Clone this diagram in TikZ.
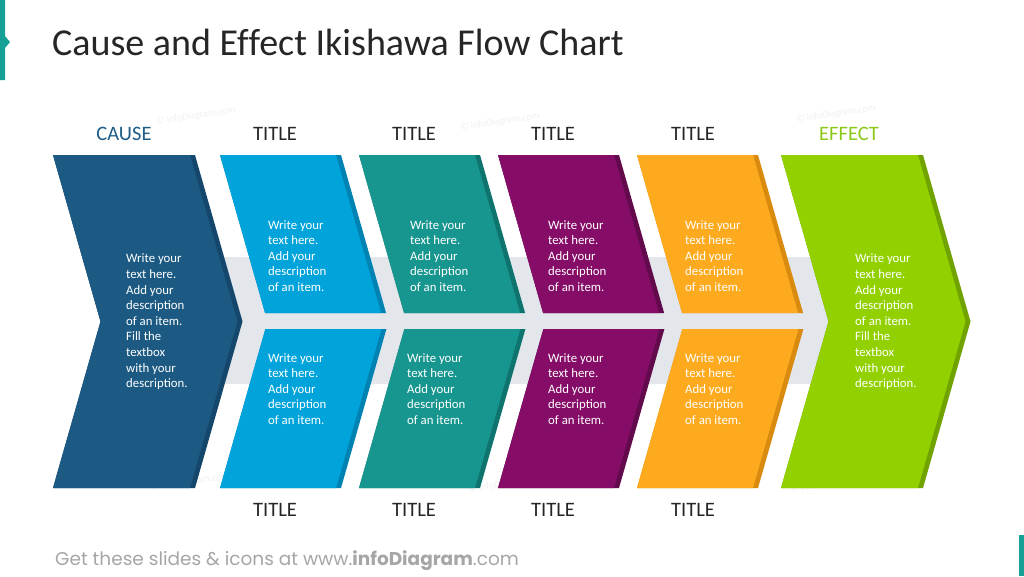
\documentclass[tikz,border=0pt]{standalone}
\usepackage{fontspec}
\setmainfont{Carlito}
\newfontfamily\footfont{Poppins}
\definecolor{ccause}{HTML}{1C5A83}
\definecolor{dcause}{HTML}{14476B}
\definecolor{cblue}{HTML}{00A4DB}
\definecolor{dblue}{HTML}{0083B3}
\definecolor{cteal}{HTML}{17958F}
\definecolor{dteal}{HTML}{0F736E}
\definecolor{cpurple}{HTML}{850C67}
\definecolor{dpurple}{HTML}{620A4C}
\definecolor{corange}{HTML}{FEAA1F}
\definecolor{dorange}{HTML}{D88B0E}
\definecolor{cgreen}{HTML}{92D000}
\definecolor{dgreen}{HTML}{70A200}
\definecolor{band}{HTML}{E3E6EB}
\definecolor{titlegrey}{HTML}{262626}
\definecolor{accent}{HTML}{17A096}
\definecolor{causetxt}{HTML}{1F5C87}
\definecolor{effecttxt}{HTML}{8CC919}
\definecolor{footgrey}{HTML}{A6A6A6}
\definecolor{wm}{HTML}{EEF0F3}
\tikzset{
  desc/.style={anchor=west, align=left, text=white, inner sep=0pt,
    font=\fontsize{12.8}{15.6}\selectfont},
  coltitle/.style={anchor=base, text=titlegrey, inner sep=0pt,
    font=\fontsize{20.5}{24}\selectfont},
  watermark/.style={text=wm, rotate=9, inner sep=0pt,
    font=\fontsize{10}{12}\selectfont}
}
\begin{document}
\begin{tikzpicture}[x=1pt,y=-1pt]
\useasboundingbox (0,0) rectangle (1024,576);
\fill[white] (0,0) rectangle (1024,576);
% accent marks
\fill[accent] (0,0) -- (5,0) -- (5,36) -- (10,42) -- (5,48) -- (5,80) -- (0,80) -- cycle;
\fill[accent] (1019,535) rectangle (1024,576);
% watermarks
\node[watermark] (wm1) at (196,116) {© infoDiagram.com};
\node[watermark] (wm2) at (500,122) {© infoDiagram.com};
\node[watermark] (wm3) at (836,114) {© infoDiagram.com};
\node[watermark] (wm4) at (190,482) {© infoDiagram.com};
\node[watermark] (wm5) at (508,484) {© infoDiagram.com};
\node[watermark] (wm6) at (830,484) {© infoDiagram.com};
% title
\node[anchor=base west, inner sep=0pt, text=titlegrey, font=\fontsize{38}{46}\selectfont]
  (title) at (52,55) {Cause and Ef\kern0ptfect Ikishawa Flow Chart};
% grey spine band
\fill[band] (150,257) rectangle (840,384);
% cause chevron
\fill[dcause] (53,155) -- (195,155) -- (242.5,321.5) -- (195,488) -- (53,488) -- (100.5,321.5) -- cycle;
\fill[ccause] (53,155) -- (190,155) -- (237.5,321.5) -- (190,488) -- (53,488) -- (100.5,321.5) -- cycle;
% effect chevron
\fill[dgreen] (781,155) -- (923,155) -- (970.5,321.5) -- (923,488) -- (781,488) -- (828.5,321.5) -- cycle;
\fill[cgreen] (781,155) -- (918,155) -- (965.5,321.5) -- (918,488) -- (781,488) -- (828.5,321.5) -- cycle;
% columns
\foreach \x/\c/\d in {220/cblue/dblue, 359/cteal/dteal, 498/cpurple/dpurple, 637/corange/dorange}{
  \fill[\d] (\x,155) -- (\x+121,155) -- (\x+166.1,313) -- (\x+45.1,313) -- cycle;
  \fill[\c] (\x,155) -- (\x+116,155) -- (\x+161.1,313) -- (\x+45.1,313) -- cycle;
  \fill[\d] (\x+45.4,329) -- (\x+166.4,329) -- (\x+121,488) -- (\x,488) -- cycle;
  \fill[\c] (\x+45.4,329) -- (\x+161.4,329) -- (\x+116,488) -- (\x,488) -- cycle;
}
% headings
\node[coltitle, text=causetxt] (cause) at (124,140) {CAUSE};
\node[coltitle] (t1) at (275,140) {TITLE};
\node[coltitle] (t2) at (414,140) {TITLE};
\node[coltitle] (t3) at (553,140) {TITLE};
\node[coltitle] (t4) at (693,140) {TITLE};
\node[coltitle, text=effecttxt] (effect) at (849,140) {EFFECT};
\node[coltitle] (b1) at (275,516) {TITLE};
\node[coltitle] (b2) at (414,516) {TITLE};
\node[coltitle] (b3) at (553,516) {TITLE};
\node[coltitle] (b4) at (693,516) {TITLE};
% descriptions
\node[desc] (dcause) at (126,322) {Write your\\text here.\\Add your\\description\\of an item.\\Fill the\\textbox\\with your\\description.};
\node[desc] (deffect) at (855,322) {Write your\\text here.\\Add your\\description\\of an item.\\Fill the\\textbox\\with your\\description.};
\node[desc] (u1) at (268,256) {Write your\\text here.\\Add your\\description\\of an item.};
\node[desc] (u2) at (410,256) {Write your\\text here.\\Add your\\description\\of an item.};
\node[desc] (u3) at (548,256) {Write your\\text here.\\Add your\\description\\of an item.};
\node[desc] (u4) at (685,256) {Write your\\text here.\\Add your\\description\\of an item.};
\node[desc] (l1) at (268,389) {Write your\\text here.\\Add your\\description\\of an item.};
\node[desc] (l2) at (407,389) {Write your\\text here.\\Add your\\description\\of an item.};
\node[desc] (l3) at (548,389) {Write your\\text here.\\Add your\\description\\of an item.};
\node[desc] (l4) at (685,389) {Write your\\text here.\\Add your\\description\\of an item.};
% footer
\node[anchor=base west, inner sep=0pt, text=footgrey, font=\footfont\fontsize{18.5}{22}\selectfont]
  (footer) at (55,565) {Get these slides \& icons at www.\textbf{infoDiagram}.com};
\end{tikzpicture}
\end{document}
